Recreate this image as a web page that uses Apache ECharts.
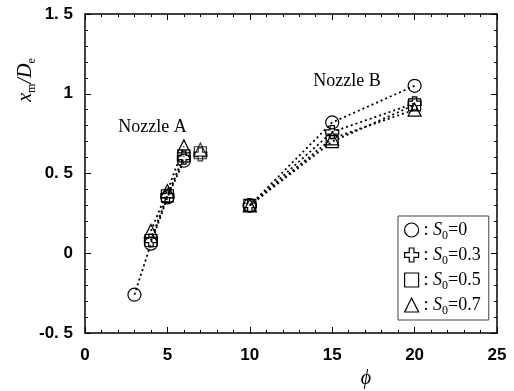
<!DOCTYPE html>
<html>
<head>
<meta charset="utf-8">
<script src="https://cdn.jsdelivr.net/npm/echarts@6/dist/echarts.min.js"></script>
<style>
html,body{margin:0;padding:0;background:#fff;}
#c{width:514px;height:391px;}
</style>
</head>
<body>
<div id="c"></div>
<script>
// ---- data ----
const sLabels = ['0', '0.3', '0.5', '0.7'];
const phiA_S00 = [3, 4, 5, 6];
const phiA = [4, 5, 6];
const phiB = [10, 15, 20];
const phiExtra = 7;
const nozzleA_S00 = [-0.26, 0.06, 0.35, 0.58];
const nozzleA_S03 = [0.08, 0.36, 0.60];
const nozzleA_S05 = [0.08, 0.36, 0.61];
const nozzleA_S07 = [0.14, 0.39, 0.67];
const extra_S03 = 0.62;
const extra_S05 = 0.63;
const extra_S07 = 0.65;
const nozzleB_S00 = [0.30, 0.82, 1.05];
const nozzleB_S03 = [0.30, 0.76, 0.94];
const nozzleB_S05 = [0.30, 0.70, 0.93];
const nozzleB_S07 = [0.30, 0.72, 0.90];
const xTickLabels = ['0', '5', '10', '15', '20', '25'];
const yTickLabels = ['-0. 5', '0', '0. 5', '1', '1. 5'];
const nozzleLabels = [{text: 'Nozzle A', phi: 4.1, y: 0.79}, {text: 'Nozzle B', phi: 15.9, y: 1.08}];

// ---- styling ----
const crossPath = 'path://M4,0H8V4H12V8H8V12H4V8H0V4H4Z';
const symbols = ['circle', crossPath, 'rect', 'triangle'];
const symSizes = [13, 13, 12, 13];
const itemStyle = {color: 'rgba(255,255,255,0)', borderColor: '#000', borderWidth: 1.2};
const lineStyle = {color: '#000', width: 1.8, type: [2, 3]};

const groupsA = [
  {x: phiA_S00, y: nozzleA_S00},
  {x: phiA, y: nozzleA_S03},
  {x: phiA, y: nozzleA_S05},
  {x: phiA, y: nozzleA_S07}
];
const groupsB = [nozzleB_S00, nozzleB_S03, nozzleB_S05, nozzleB_S07];
const extras = [null, extra_S03, extra_S05, extra_S07];

const series = [];
sLabels.forEach((s, i) => {
  const name = 'S' + i;
  const common = {name: name, symbol: symbols[i], symbolSize: symSizes[i], itemStyle: itemStyle,
    lineStyle: lineStyle, xAxisIndex: 0, yAxisIndex: 0, animation: false, z: 3};
  series.push(Object.assign({type: 'line', data: groupsA[i].x.map((x, k) => [x, groupsA[i].y[k]])}, common));
  series.push(Object.assign({type: 'line', data: phiB.map((x, k) => [x, groupsB[i][k]])}, common));
  if (extras[i] !== null) {
    series.push(Object.assign({type: 'scatter', data: [[phiExtra, extras[i]]]}, common));
  }
});

const chart = echarts.init(document.getElementById('c'));
const tickLabelStyle = {color: '#000', fontFamily: 'Liberation Sans, Arial, sans-serif', fontWeight: 'bold', fontSize: 17};
const axisLine = {show: true, onZero: false, lineStyle: {color: '#000', width: 1.5}};
function xAxis(pos, showLabel) {
  return {type: 'value', position: pos, min: 0, max: 25, interval: 5,
    axisLine: axisLine,
    axisTick: {show: true, inside: true, length: 6, lineStyle: {color: '#000', width: 1}},
    minorTick: {show: true, splitNumber: 5, length: 3, lineStyle: {color: '#000', width: 1}},
    splitLine: {show: false}, minorSplitLine: {show: false},
    axisLabel: {show: showLabel, margin: 14, formatter: v => xTickLabels[Math.round(v / 5)], ...tickLabelStyle}};
}
function yAxis(pos, showLabel) {
  return {type: 'value', position: pos, min: -0.5, max: 1.5, interval: 0.5,
    axisLine: axisLine,
    axisTick: {show: true, inside: true, length: 6, lineStyle: {color: '#000', width: 1}},
    minorTick: {show: true, splitNumber: 5, length: 3, lineStyle: {color: '#000', width: 1}},
    splitLine: {show: false}, minorSplitLine: {show: false},
    axisLabel: {show: showLabel, margin: 12, formatter: v => yTickLabels[Math.round((v + 0.5) / 0.5)], ...tickLabelStyle}};
}

const serif = 'Liberation Serif, Times New Roman, serif';
chart.setOption({
  animation: false,
  backgroundColor: '#fff',
  grid: {left: 85, right: 17, top: 14, bottom: 58},
  xAxis: [xAxis('bottom', true), xAxis('top', false)],
  yAxis: [yAxis('left', true), yAxis('right', false)],
  legend: {
    orient: 'vertical', left: 398, top: 216,
    backgroundColor: '#fff', borderColor: '#444', borderWidth: 1,
    padding: [5, 8, 3, 6], itemGap: 4, itemWidth: 14, itemHeight: 14,
    itemStyle: {color: 'rgba(255,255,255,0)', borderColor: '#000', borderWidth: 1.2},
    data: sLabels.map((s, i) => ({name: 'S' + i, icon: symbols[i]})),
    formatter: name => {
      const s = sLabels[+name.slice(1)];
      return '{c|:}{i| S}{sub|0}{c|=' + s + '}';
    },
    textStyle: {
      color: '#000',
      rich: {
        c: {fontFamily: serif, fontSize: 18, color: '#000', lineHeight: 24},
        i: {fontFamily: serif, fontStyle: 'italic', fontSize: 18, color: '#000', lineHeight: 24},
        sub: {fontFamily: serif, fontSize: 12, color: '#000', lineHeight: 12, verticalAlign: 'bottom'}
      }
    },
    selectedMode: false
  },
  series: series
});

const graphics = nozzleLabels.map(n => {
  const p = chart.convertToPixel({gridIndex: 0}, [n.phi, n.y]);
  return {type: 'text', x: p[0], y: p[1], style: {text: n.text, font: '18px ' + serif, fill: '#000', align: 'center', verticalAlign: 'middle'}};
});
graphics.push({type: 'text', x: 26, y: 80, rotation: Math.PI / 2,
  style: {text: '{i|x}{sub|m}{i|/D}{sub|e}', align: 'center', verticalAlign: 'middle',
    rich: {
      i: {fontFamily: serif, fontStyle: 'italic', fontSize: 20, fill: '#000', lineHeight: 24},
      sub: {fontFamily: serif, fontSize: 12, fill: '#000', lineHeight: 12, verticalAlign: 'bottom'}
    }}});
graphics.push({type: 'text', x: 366, y: 379,
  style: {text: 'ϕ', font: 'italic 20px ' + serif, fill: '#000', align: 'center', verticalAlign: 'middle'}});
chart.setOption({graphic: graphics});
</script>
</body>
</html>
